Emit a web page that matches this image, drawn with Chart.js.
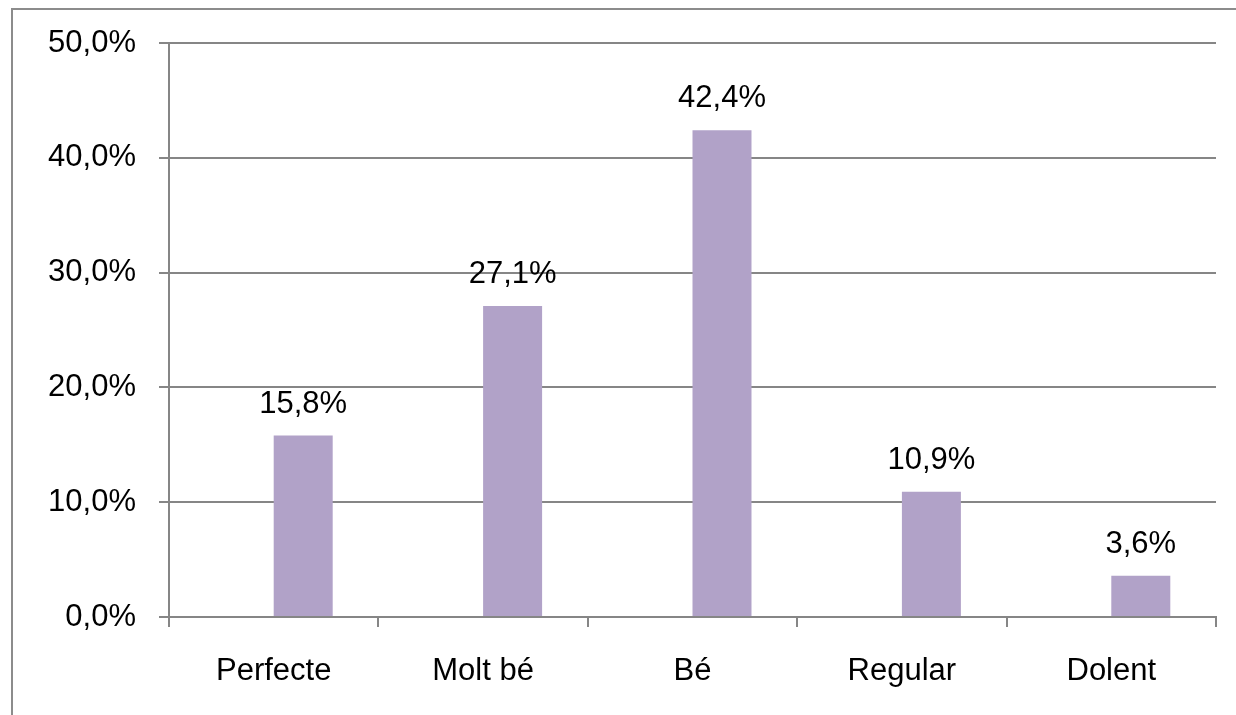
<!DOCTYPE html>
<html>
<head>
<meta charset="utf-8">
<script src="https://cdn.jsdelivr.net/npm/chart.js@4"></script>
<style>
    html, body { margin: 0; padding: 0; background: #ffffff; }
    #wrap { position: relative; width: 1236px; height: 715px; overflow: hidden; }
    #frame {
        position: absolute; left: 11px; top: 8px; width: 1400px; height: 900px;
        border-left: 2px solid #8c8c8c; border-top: 2px solid #8c8c8c;
    }
    canvas { position: absolute; left: 0; top: 0; }
</style>
</head>
<body>
<div id="wrap">
    <div id="frame"></div>
    <canvas id="chart" width="1236" height="715"></canvas>
</div>
<script>
const categories = ['Perfecte', 'Molt bé', 'Bé', 'Regular', 'Dolent'];
const percentages = [15.8, 27.1, 42.4, 10.9, 3.6];
const emptySeries = [null, null, null, null, null];

const FONT = "'Liberation Sans', Arial, sans-serif";
const GRID = '#868686';
const BAR = '#b1a2c8';

function formatPct(value) {
    return value.toFixed(1).replace('.', ',') + '%';
}

const valueLabels = {
    id: 'valueLabels',
    afterDatasetsDraw(chart) {
        const ctx = chart.ctx;
        const meta = chart.getDatasetMeta(1);
        ctx.save();
        ctx.font = `31px ${FONT}`;
        ctx.fillStyle = '#000000';
        ctx.textAlign = 'center';
        ctx.textBaseline = 'alphabetic';
        meta.data.forEach((bar, i) => {
            ctx.fillText(formatPct(percentages[i]), bar.x, bar.y - 23);
        });
        ctx.restore();
    }
};

const ctx = document.getElementById('chart').getContext('2d');
new Chart(ctx, {
    type: 'bar',
    data: {
        labels: categories,
        datasets: [
            { data: emptySeries, backgroundColor: BAR },
            { data: percentages, backgroundColor: BAR },
        ],
    },
    options: {
        responsive: false,
        animation: false,
        categoryPercentage: 0.5635,
        barPercentage: 1,
        layout: {
            padding: { left: 0, top: 43, right: 20, bottom: 0 },
        },
        scales: {
            x: {
                afterFit: (scale) => { scale.height = 98; },
                grid: {
                    offset: true,
                    drawOnChartArea: false,
                    drawTicks: true,
                    tickLength: 10,
                    color: GRID,
                    lineWidth: 2,
                },
                border: { display: true, color: GRID, width: 2 },
                ticks: {
                    padding: 26,
                    color: '#000000',
                    font: { family: FONT, size: 31 },
                    maxRotation: 0,
                },
            },
            y: {
                min: 0,
                max: 50,
                afterFit: (scale) => { scale.width = 169; },
                grid: {
                    color: GRID,
                    lineWidth: 2,
                    tickLength: 10,
                },
                border: { display: true, color: GRID, width: 2 },
                ticks: {
                    stepSize: 10,
                    padding: 23,
                    color: '#000000',
                    font: { family: FONT, size: 31 },
                    callback: (value) => formatPct(value),
                },
            },
        },
        plugins: {
            legend: { display: false },
            tooltip: { enabled: false },
        },
    },
    plugins: [valueLabels],
});
</script>
</body>
</html>
